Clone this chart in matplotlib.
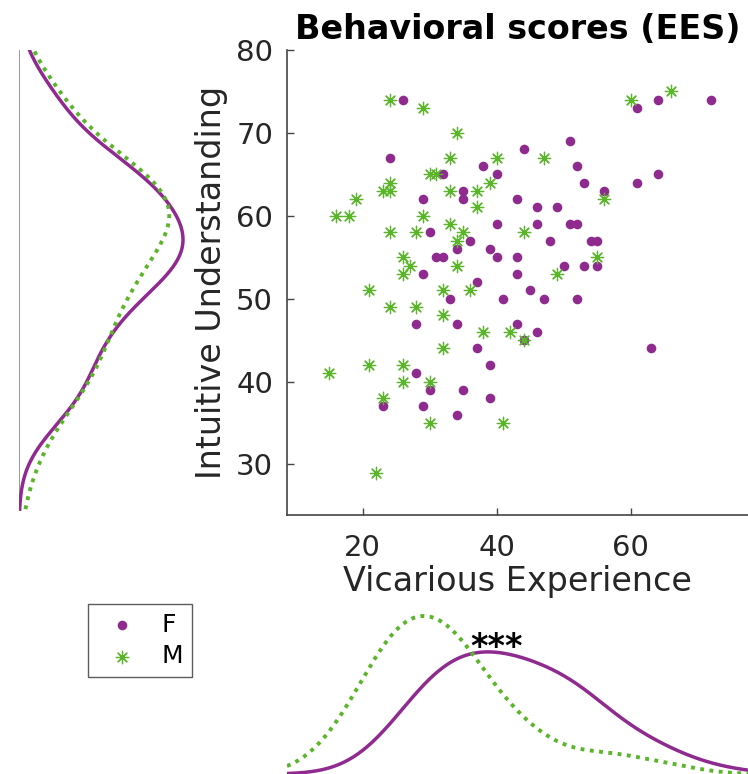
import numpy as np
import matplotlib.pyplot as plt

# Vicarious Experience / Intuitive Understanding scores per participant
f_vic = [26, 24, 44, 51, 38, 40, 32, 52, 53, 56, 61, 64, 72, 61, 64, 35, 35, 29, 43, 46,
         49, 40, 46, 51, 52, 30, 48, 54, 55, 36, 39, 34, 31, 32, 40, 43, 50, 53, 55, 29,
         43, 37, 45, 33, 41, 47, 52, 28, 34, 43, 46, 44, 37, 63, 39, 28, 30, 35, 39, 23,
         29, 34]
f_int = [74, 67, 68, 69, 66, 65, 65, 66, 64, 63, 73, 74, 74, 64, 65, 63, 62, 62, 62, 61,
         61, 59, 59, 59, 59, 58, 57, 57, 57, 57, 56, 56, 55, 55, 55, 55, 54, 54, 54, 53,
         53, 52, 51, 50, 50, 50, 50, 47, 47, 47, 46, 45, 44, 44, 42, 41, 39, 39, 38, 37,
         37, 36]

m_vic = [24, 29, 34, 33, 40, 47, 30, 31, 39, 24, 23, 24, 33, 37, 19, 37, 16, 18, 29, 33,
         24, 28, 35, 44, 34, 26, 27, 26, 34, 49, 56, 55, 60, 66, 21, 32, 36, 24, 28, 32,
         38, 42, 44, 32, 21, 26, 15, 26, 30, 23, 30, 41, 22]
m_int = [74, 73, 70, 67, 67, 67, 65, 65, 64, 64, 63, 63, 63, 63, 62, 61, 60, 60, 60, 59,
         58, 58, 58, 58, 57, 55, 54, 53, 54, 53, 62, 55, 74, 75, 51, 51, 51, 49, 49, 48,
         46, 46, 45, 44, 42, 42, 41, 40, 40, 38, 35, 35, 29]

purple = '#8f2a8f'
green = '#5bb52b'
txt = '#262626'

xlim = (8.7, 77.5)
ylim = (23.9, 80)


def kde(v, grid):
    # gaussian kernel, normal-reference bandwidth (like ksdensity)
    v = np.asarray(v, float)
    sig = np.median(np.abs(v - np.median(v))) / 0.6745
    bw = sig * (4 / (3 * len(v))) ** 0.2
    z = (grid[:, None] - v[None, :]) / bw
    return np.exp(-0.5 * z ** 2).sum(1) / (len(v) * bw * np.sqrt(2 * np.pi))


W, H = 748, 774
fig = plt.figure(figsize=(W / 100, H / 100), dpi=100)

# main scatter
ax = fig.add_axes([287 / W, (H - 515) / H, (W - 287) / W, 465 / H])
ax.scatter(f_vic, f_int, s=48, c=purple, marker='o', linewidths=0, label='F', zorder=2)
ax.scatter(m_vic, m_int, s=80, c=green, marker=(8, 2, 0), linewidths=0.9, label='M', zorder=3)
ax.set_xlim(xlim)
ax.set_ylim(ylim)
ax.set_xticks([20, 40, 60])
ax.set_yticks([30, 40, 50, 60, 70, 80])
ax.spines['top'].set_visible(False)
ax.spines['right'].set_visible(False)
for s in ('left', 'bottom'):
    ax.spines[s].set_color('#444444')
    ax.spines[s].set_linewidth(1.2)
ax.tick_params(direction='in', length=5, width=1, colors='#444444', labelcolor=txt,
               labelsize=21)
ax.tick_params(axis='x', pad=14)
ax.tick_params(axis='y', pad=10)
ax.set_xlabel('Vicarious Experience', fontsize=24, color=txt, labelpad=2)
ax.set_ylabel('Intuitive Understanding', fontsize=24, color=txt, labelpad=6)
ax.set_title('Behavioral scores (EES)', fontsize=24, fontweight='bold', pad=8)

# marginal density of Intuitive Understanding (rotated)
gy = np.linspace(24.6, 80, 300)
dfy = kde(f_int, gy)
dmy = kde(m_int, gy)
axl = fig.add_axes([19 / W, (H - 515) / H, 200 / W, 465 / H])
axl.plot([0, 0], [gy[0], gy[-1]], color='#888888', lw=1.2)
axl.plot(dfy, gy, color=purple, lw=2.5)
axl.plot(dmy, gy, color=green, lw=2.8, ls=(0, (1, 1.4)))
axl.set_ylim(ylim)
axl.set_xlim(0, max(dfy.max(), dmy.max()) * 200 / 164)
axl.axis('off')

# marginal density of Vicarious Experience
gx = np.linspace(xlim[0], xlim[1], 300)
dfx = kde(f_vic, gx)
dmx = kde(m_vic, gx)
axb = fig.add_axes([287 / W, 0, (W - 287) / W, 175 / H])
axb.plot(gx, dfx, color=purple, lw=2.5)
axb.plot(gx, dmx, color=green, lw=2.8, ls=(0, (1, 1.4)))
axb.set_xlim(xlim)
axb.set_ylim(0, max(dfx.max(), dmx.max()) * 175 / 158)
axb.axis('off')
ipk = dfx.argmax()
axb.annotate('***', (gx[ipk] + 1.3, dfx[ipk]), xytext=(0, 3), textcoords='offset points',
             ha='center', va='center', fontsize=24, fontweight='bold')

fig.legend(loc='upper left', bbox_to_anchor=(88 / W, (H - 604) / H), fontsize=18,
           frameon=True, fancybox=False, edgecolor='#333333', borderaxespad=0,
           handletextpad=0.6, borderpad=0.35, labelspacing=0.3, markerscale=1.0)

fig.savefig('out.png', dpi=100)
